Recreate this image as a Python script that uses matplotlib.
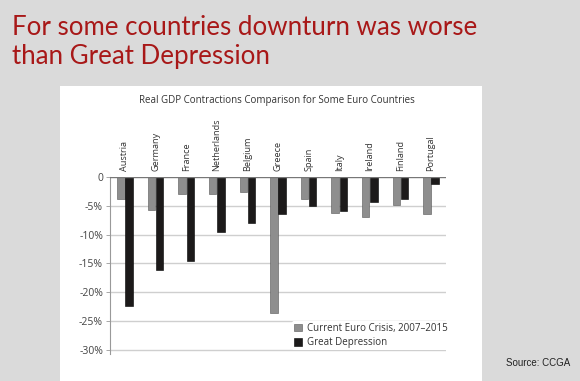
import matplotlib
matplotlib.use("Agg")
import matplotlib.pyplot as plt
from matplotlib.patches import Rectangle, Patch
import numpy as np

countries = ["Austria", "Germany", "France", "Netherlands", "Belgium", "Greece",
             "Spain", "Italy", "Ireland", "Finland", "Portugal"]
euro_crisis = [-3.9, -5.7, -3.0, -3.0, -2.6, -23.6, -3.9, -6.2, -6.9, -4.9, -6.4]
great_depression = [-22.4, -16.1, -14.6, -9.5, -7.9, -6.4, -5.0, -5.9, -4.3, -3.9, -1.2]
yticks = [0, -5, -10, -15, -20, -25, -30]
ytick_labels = ["0", "-5%", "-10%", "-15%", "-20%", "-25%", "-30%"]
series_labels = ["Current Euro Crisis, 2007\u20132015", "Great Depression"]

W, H = 580, 381
fig = plt.figure(figsize=(W / 100, H / 100), dpi=100)
fig.patch.set_facecolor("#dadada")

def fx(px):
    return px / W

def fy(py):
    return 1 - py / H

# white panel
fig.patches.append(Rectangle((fx(60), 0), fx(482) - fx(60), fy(86), transform=fig.transFigure,
                             facecolor="white", edgecolor="none", zorder=-5))

# slide heading
fig.text(fx(12), fy(35), "For some countries downturn was worse", color="#a81818",
         fontsize=18.6, family="Lato", va="baseline", ha="left")
fig.text(fx(12), fy(64), "than Great Depression", color="#a81818",
         fontsize=18.6, family="Lato", va="baseline", ha="left")

fig.text(fx(570), fy(363), "Source: CCGA", fontsize=7, family="Liberation Sans",
         ha="right", va="center", color="#222222")

# chart title
fig.text(fx(277), fy(101), "Real GDP Contractions Comparison for Some Euro Countries",
         fontsize=7.0, ha="center", va="center", color="#333333", family="Open Sans")

ymin = -30.8
top_px, bottom_px = 177, 177 + (-ymin) / 5 * 28.8
ax = fig.add_axes([fx(110), fy(bottom_px), fx(446) - fx(110), fy(top_px) - fy(bottom_px)])
ax.set_facecolor("none")
ax.set_zorder(2)

x = np.arange(len(countries))
w = 0.245
ax.bar(x - 0.135, euro_crisis, width=w, color="#8e8e8e", edgecolor="#555555", linewidth=0.4, zorder=3,
       label=series_labels[0])
ax.bar(x + 0.135, great_depression, width=w, color="#1c1a1a", edgecolor="#000000", linewidth=0.4, zorder=3,
       label=series_labels[1])

ax.set_xlim(-0.49, 10.49)
ax.set_ylim(ymin, 0)
ax.set_yticks(yticks)
ax.set_yticklabels(ytick_labels, fontsize=7.5, color="#444444", family="Open Sans")
ax.set_xticks([])
for t in yticks[1:]:
    ax.axhline(t, color="#cfcfcf", linewidth=1.0, zorder=1)
ax.axhline(0, color="#777777", linewidth=1.0, zorder=4)
for s in ["top", "right", "bottom"]:
    ax.spines[s].set_visible(False)
ax.spines["left"].set_color("#999999")
ax.spines["left"].set_linewidth(0.8)
ax.tick_params(axis="y", length=3, width=0.6, color="#999999", pad=2)

for i, c in enumerate(countries):
    ax.annotate(c, (i, 0), xytext=(0, 4), textcoords="offset points", rotation=90,
                ha="center", va="bottom", fontsize=6.6, color="#333333", family="Open Sans")

leg = ax.legend(loc="upper left", bbox_to_anchor=(fx(292), fy(321)), bbox_transform=fig.transFigure,
                frameon=True, handlelength=0.8, handleheight=0.8, handletextpad=0.5,
                borderpad=0.2, labelspacing=0.35, borderaxespad=0, prop={"family": "Open Sans", "size": 7})
leg.get_frame().set_facecolor("white")
leg.get_frame().set_edgecolor("none")
leg.get_frame().set_alpha(1)
for t in leg.get_texts():
    t.set_color("#333333")

fig.savefig("out.png", dpi=100, facecolor=fig.get_facecolor())
